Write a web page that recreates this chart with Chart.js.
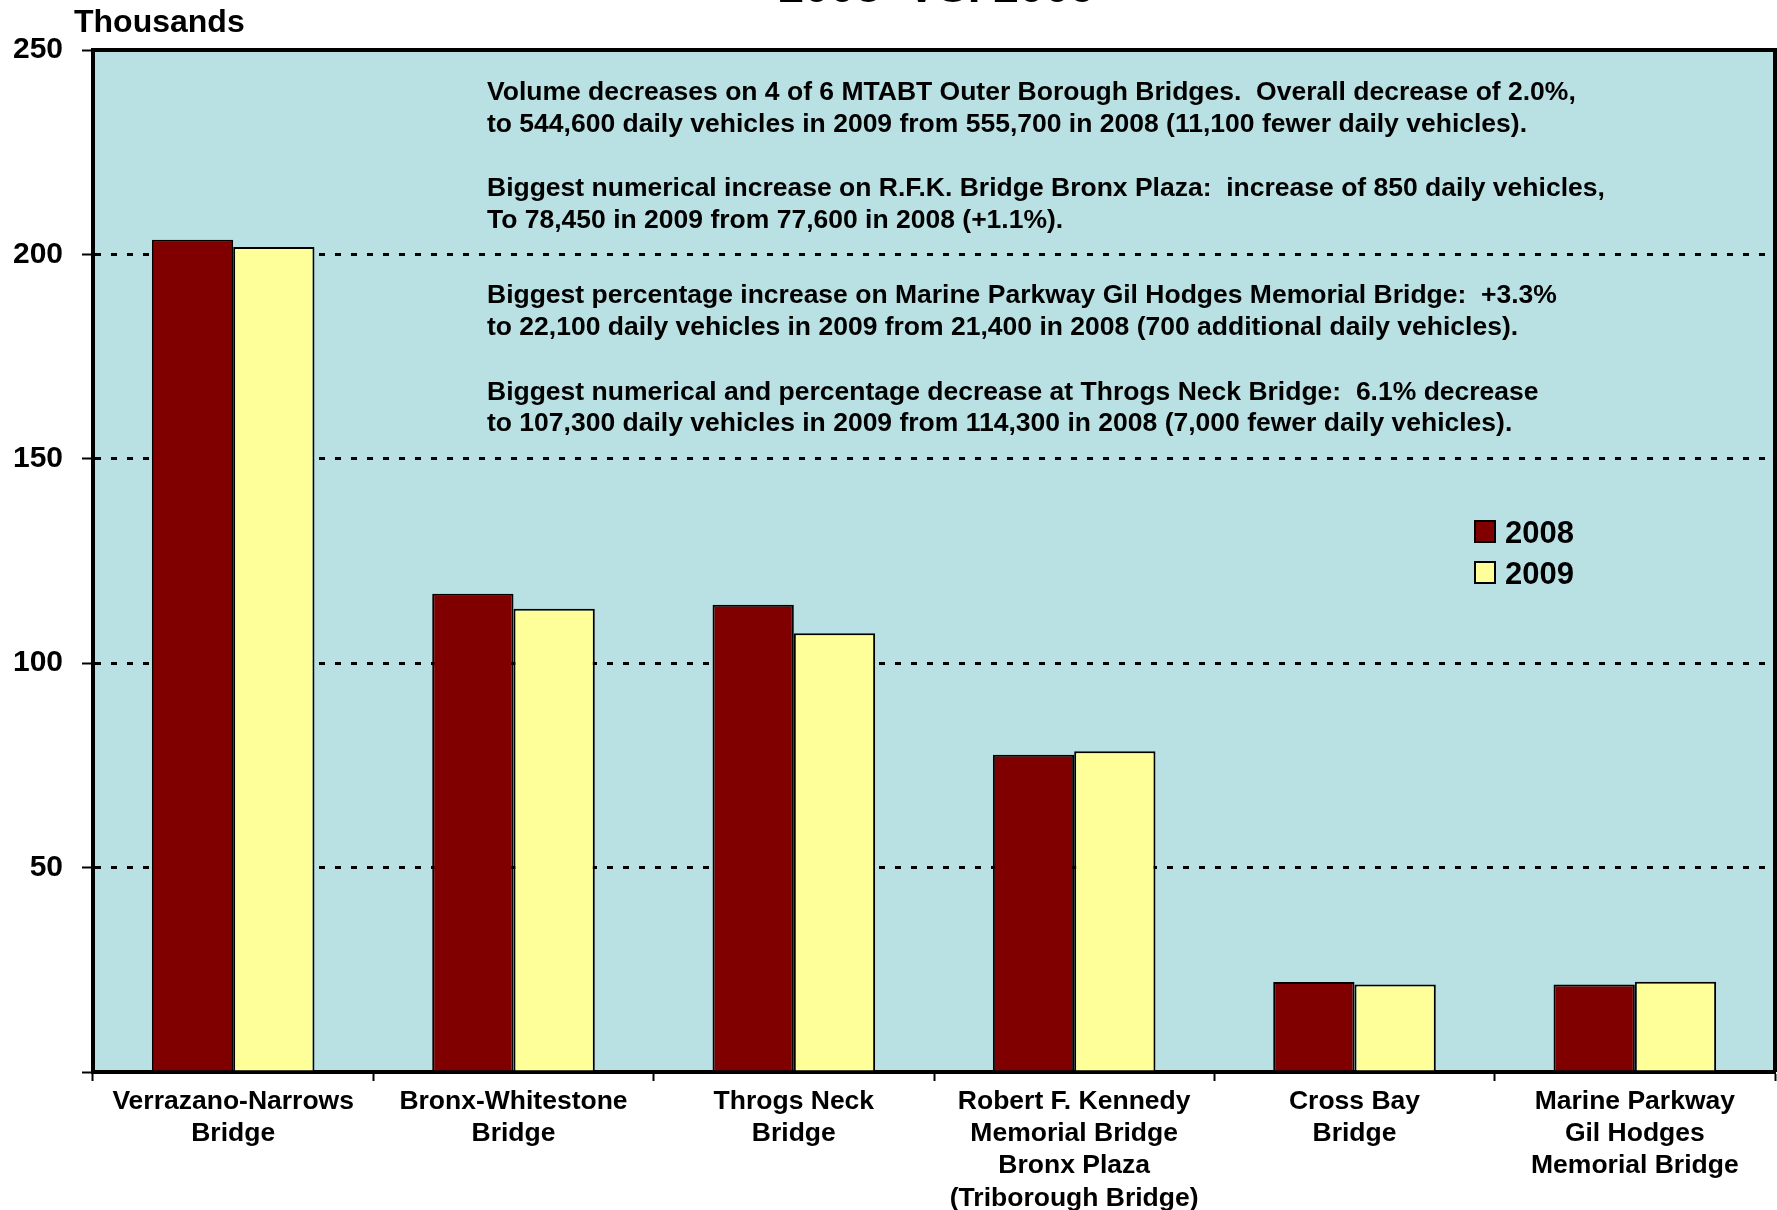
<!DOCTYPE html>
<html>
<head>
<meta charset="utf-8">
<script src="https://cdn.jsdelivr.net/npm/chart.js@4.4.0/dist/chart.umd.min.js"></script>
<style>
  html, body { margin: 0; padding: 0; background: #ffffff; }
  #wrap { width: 1777px; height: 1210px; position: relative; }
</style>
</head>
<body>
<div id="wrap"><canvas id="c" width="1777" height="1210"></canvas></div>
<script>
// ---- data ----
const categories = [
  ["Verrazano-Narrows", "Bridge"],
  ["Bronx-Whitestone", "Bridge"],
  ["Throgs Neck", "Bridge"],
  ["Robert F. Kennedy", "Memorial Bridge", "Bronx Plaza", "(Triborough Bridge)"],
  ["Cross Bay", "Bridge"],
  ["Marine Parkway", "Gil Hodges", "Memorial Bridge"]
];
const seriesLabels = ["2008", "2009"];
const values2008 = [203.6, 117.0, 114.3, 77.6, 22.0, 21.4];
const values2009 = [201.8, 113.3, 107.3, 78.45, 21.4, 22.1];
const yTickValues = [0, 50, 100, 150, 200, 250];
const yAxisTitle = "Thousands";
const chartTitle = "2008  VS. 2009";
const notes = [
  "Volume decreases on 4 of 6 MTABT Outer Borough Bridges.  Overall decrease of 2.0%,",
  "to 544,600 daily vehicles in 2009 from 555,700 in 2008 (11,100 fewer daily vehicles).",
  "Biggest numerical increase on R.F.K. Bridge Bronx Plaza:  increase of 850 daily vehicles,",
  "To 78,450 in 2009 from 77,600 in 2008 (+1.1%).",
  "Biggest percentage increase on Marine Parkway Gil Hodges Memorial Bridge:  +3.3%",
  "to 22,100 daily vehicles in 2009 from 21,400 in 2008 (700 additional daily vehicles).",
  "Biggest numerical and percentage decrease at Throgs Neck Bridge:  6.1% decrease",
  "to 107,300 daily vehicles in 2009 from 114,300 in 2008 (7,000 fewer daily vehicles)."
];

// ---- styles ----
const FONT = "'Liberation Sans', Arial, Helvetica, sans-serif";
const colors = ["#800000", "#FFFF99"];
const plotBg = "#B9E0E3";
const noteBaselines = [100, 132, 196, 228, 303, 335, 400, 431];

const decorPlugin = {
  id: 'decor',
  beforeDraw(chart) {
    const { ctx, chartArea: a } = chart;
    ctx.save();
    ctx.fillStyle = plotBg;
    ctx.fillRect(a.left, a.top, a.right - a.left, a.bottom - a.top);
    ctx.restore();
  },
  afterDraw(chart) {
    const { ctx, chartArea: a } = chart;
    ctx.save();
    // top & right frame
    ctx.strokeStyle = '#000';
    ctx.lineWidth = 4;
    ctx.beginPath();
    ctx.moveTo(a.left - 2, a.top);
    ctx.lineTo(a.right, a.top);
    ctx.lineTo(a.right, a.bottom);
    ctx.stroke();

    // title (cut at the top)
    ctx.fillStyle = '#000';
    ctx.textAlign = 'center';
    ctx.textBaseline = 'alphabetic';
    ctx.font = "bold 46px " + FONT;
    ctx.fillText(chartTitle, 937, 2);

    // axis unit
    ctx.textAlign = 'left';
    ctx.font = "bold 32px " + FONT;
    ctx.fillText(yAxisTitle, 74, 32);

    // annotations
    ctx.font = "bold 26.5px " + FONT;
    notes.forEach((t, i) => ctx.fillText(t, 487, noteBaselines[i]));

    // legend
    const ds = chart.data.datasets;
    ctx.font = "bold 31px " + FONT;
    ds.forEach((d, i) => {
      const y = 521 + i * 41;
      ctx.fillStyle = d.backgroundColor;
      ctx.fillRect(1475, y, 20, 21);
      ctx.lineWidth = 2;
      ctx.strokeStyle = '#000';
      ctx.strokeRect(1475, y, 20, 21);
      ctx.fillStyle = '#000';
      ctx.fillText(d.label, 1505, y + 22);
    });
    ctx.restore();
  }
};

new Chart(document.getElementById('c'), {
  type: 'bar',
  data: {
    labels: categories,
    datasets: [
      { label: seriesLabels[0], data: values2008, backgroundColor: colors[0],
        borderColor: '#000', borderWidth: 2, borderSkipped: 'bottom',
        categoryPercentage: 0.58, barPercentage: 1.0 },
      { label: seriesLabels[1], data: values2009, backgroundColor: colors[1],
        borderColor: '#000', borderWidth: 2, borderSkipped: 'bottom',
        categoryPercentage: 0.58, barPercentage: 1.0 }
    ]
  },
  options: {
    responsive: false,
    animation: false,
    devicePixelRatio: 1,
    layout: { padding: { top: 50, right: 2, left: 0, bottom: 0 } },
    plugins: { legend: { display: false }, title: { display: false }, tooltip: { enabled: false } },
    scales: {
      x: {
        offset: true,
        grid: { display: true, drawOnChartArea: false, drawTicks: true, tickLength: 9,
                tickColor: '#000', tickWidth: 2, offset: true },
        border: { display: true, color: '#000', width: 4 },
        ticks: { color: '#000', font: { family: FONT, size: 26.5, weight: 'bold', lineHeight: 1.21 },
                 padding: 5, maxRotation: 0, minRotation: 0, autoSkip: false },
        afterFit(scale) { scale.height = 138; }
      },
      y: {
        min: 0, max: 250,
        afterBuildTicks(scale) { scale.ticks = yTickValues.map(v => ({ value: v })); },
        grid: { display: true, drawOnChartArea: true, color: '#000', lineWidth: 3,
                drawTicks: true, tickLength: 11, tickColor: '#000', tickWidth: 2 },
        border: { display: true, color: '#000', width: 4, dash: [6, 10] },
        ticks: { color: '#000', font: { family: FONT, size: 30, weight: 'bold' }, padding: 19,
                 callback: (v) => v === 0 ? '' : String(v) },
        afterFit(scale) { scale.width = 93; }
      }
    }
  },
  plugins: [decorPlugin]
});
</script>
</body>
</html>
